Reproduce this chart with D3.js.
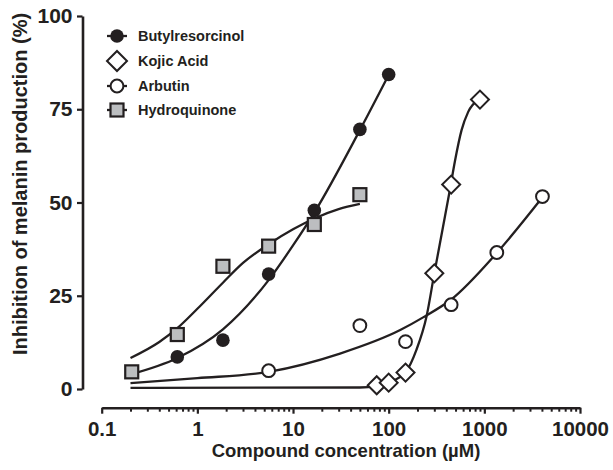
<!DOCTYPE html>
<html>
<head>
<meta charset="utf-8">
<script src="https://cdn.jsdelivr.net/npm/d3@7"></script>
<style>
  body { margin: 0; background: #fff; }
  text { font-family: "Liberation Sans", Arial, Helvetica, sans-serif; font-weight: bold; fill: #231f20; }
</style>
</head>
<body>
<div id="chart"></div>
<script>
// measured points (concentration in uM, inhibition in %)
var butylConc = [0.617, 1.85, 5.56, 16.7, 50, 100];
var butylInh = [8.6, 13.1, 30.8, 47.9, 69.6, 84.3];
var kojicConc = [75, 100, 150, 300, 450, 900];
var kojicInh = [1.0, 1.7, 4.4, 31.0, 54.8, 77.6];
var arbutinConc = [5.56, 50, 150, 450, 1350, 4050];
var arbutinInh = [4.9, 17.0, 12.7, 22.6, 36.6, 51.6];
var hydroConc = [0.206, 0.617, 1.85, 5.56, 16.7, 50];
var hydroInh = [4.6, 14.6, 32.9, 38.3, 44.1, 52.1];

// fitted curves
var butylFitX = [0.2, 0.617, 1.85, 5.56, 10, 16.7, 50, 100];
var butylFitY = [3.9, 8.3, 16, 29.2, 38.5, 47.3, 69.4, 84.2];
var kojicFitX = [0.2, 50, 75, 100, 150, 195, 249, 300, 370, 437, 492, 578, 678, 880];
var kojicFitY = [0.3, 0.4, 0.8, 1.8, 4.5, 10.5, 19.5, 31, 43.5, 53.5, 61, 69.4, 74.3, 77.7];
var arbutinFitX = [0.2, 1, 5.56, 31, 132, 229, 450, 1350, 4050];
var arbutinFitY = [1.6, 2.9, 4.6, 9.5, 15.8, 19.2, 24, 36.5, 51.4];
var hydroFitX = [0.2, 0.4, 0.617, 1, 1.85, 3, 5.56, 10, 16.7, 30, 50];
var hydroFitY = [8.3, 12.6, 16.3, 21.5, 28.5, 33.8, 38.8, 42.8, 45.7, 48.2, 49.6];

var seriesNames = ["Butylresorcinol", "Kojic Acid", "Arbutin", "Hydroquinone"];
var xMajorTicks = [0.1, 1, 10, 100, 1000, 10000];
var yTicks = [0, 25, 50, 75, 100];

var ink = "#231f20";
var grey = "#bcbec0";

var svg = d3.select("#chart").append("svg")
  .attr("width", 613)
  .attr("height", 470);

var x = d3.scaleLog().domain([0.1, 10000]).range([101.7, 580]);
var y = d3.scaleLinear().domain([0, 100]).range([389, 16]);

// x axis: minor ticks then major ticks
var xMinor = [];
xMajorTicks.slice(0, -1).forEach(function(d){
  for (var k = 2; k <= 9; k++) xMinor.push(d * k);
});

svg.append("g")
  .attr("transform", "translate(0,407.7)")
  .call(d3.axisBottom(x).tickValues(xMinor).tickSize(4).tickFormat(""))
  .call(function(g){ g.select(".domain").remove(); })
  .selectAll("line").attr("stroke", ink).attr("stroke-width", 2);

var xAxis = svg.append("g")
  .attr("transform", "translate(0,407.7)")
  .call(d3.axisBottom(x).tickValues(xMajorTicks).tickSize(6).tickSizeOuter(0).tickPadding(7.5)
    .tickFormat(function(d){ return d < 1 ? "0.1" : d3.format("d")(d); }));
xAxis.select(".domain").attr("stroke", ink).attr("stroke-width", 2.6);
xAxis.selectAll("line").attr("stroke", ink).attr("stroke-width", 2.2);
xAxis.selectAll("text").style("font-size", "20.5px");

var yAxis = svg.append("g")
  .attr("transform", "translate(82.5,0)")
  .call(d3.axisLeft(y).tickValues(yTicks).tickSize(5.5).tickSizeOuter(0).tickPadding(4.5));
yAxis.select(".domain").attr("stroke", ink).attr("stroke-width", 2.6);
yAxis.selectAll("line").attr("stroke", ink).attr("stroke-width", 2.2);
yAxis.selectAll("text").style("font-size", "21px");

svg.append("text")
  .attr("x", 346).attr("y", 456.5)
  .attr("text-anchor", "middle")
  .style("font-size", "18.5px")
  .text("Compound concentration (\u00b5M)");

svg.append("text")
  .attr("transform", "translate(26.5,184) rotate(-90)")
  .attr("text-anchor", "middle")
  .style("font-size", "20px")
  .text("Inhibition of melanin production (%)");

// curves
var line = d3.line()
  .x(function(d){ return x(d[0]); })
  .y(function(d){ return y(d[1]); })
  .curve(d3.curveMonotoneX);

[[butylFitX, butylFitY], [kojicFitX, kojicFitY], [arbutinFitX, arbutinFitY], [hydroFitX, hydroFitY]]
  .forEach(function(s){
    svg.append("path")
      .datum(d3.zip(s[0], s[1]))
      .attr("d", line)
      .attr("fill", "none")
      .attr("stroke", ink)
      .attr("stroke-width", 2.3);
  });

// markers
function drawMarker(g, type, cx, cy, big) {
  if (type === 0) {
    g.append("circle").attr("cx", cx).attr("cy", cy).attr("r", 6.8).attr("fill", ink);
  } else if (type === 1) {
    var s = big ? 10 : 9;
    g.append("path")
      .attr("d", d3.symbol().type(d3.symbolSquare).size(2 * s * s)())
      .attr("transform", "translate(" + cx + "," + cy + ") rotate(45)")
      .attr("fill", "#fff").attr("stroke", ink).attr("stroke-width", 2);
  } else if (type === 2) {
    g.append("circle").attr("cx", cx).attr("cy", cy).attr("r", 6.4)
      .attr("fill", "#fff").attr("stroke", ink).attr("stroke-width", 2);
  } else {
    g.append("rect").attr("x", cx - 6.5).attr("y", cy - 6.5).attr("width", 13).attr("height", 13)
      .attr("fill", grey).attr("stroke", ink).attr("stroke-width", 2.2);
  }
}

var pts = svg.append("g");
[[butylConc, butylInh], [kojicConc, kojicInh], [arbutinConc, arbutinInh], [hydroConc, hydroInh]]
  .forEach(function(s, i){
    s[0].forEach(function(c, j){
      drawMarker(pts, i, x(c), y(s[1][j]), false);
    });
  });

// legend
var legend = svg.append("g");
var rowY = [36, 61, 86, 110];
seriesNames.forEach(function(name, i){
  if (i !== 1) {
    legend.append("line")
      .attr("x1", 107).attr("x2", 127)
      .attr("y1", rowY[i]).attr("y2", rowY[i])
      .attr("stroke", ink).attr("stroke-width", 2.3);
  }
  drawMarker(legend, i, 117, rowY[i], true);
  legend.append("text")
    .attr("x", 138).attr("y", rowY[i]).attr("dy", "0.36em")
    .style("font-size", "14.5px")
    .text(name);
});
</script>
</body>
</html>
